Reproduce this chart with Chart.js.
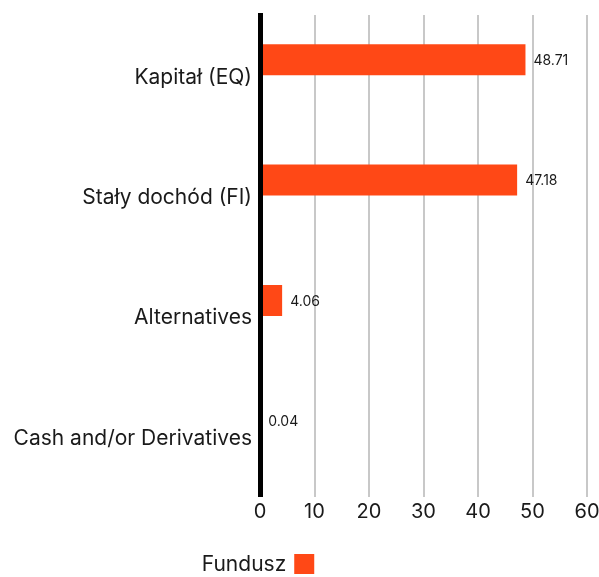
<!DOCTYPE html>
<html>
<head>
<meta charset="utf-8">
<script src="https://cdn.jsdelivr.net/npm/chart.js@4/dist/chart.umd.min.js"></script>
<style>
  html, body { margin: 0; padding: 0; background: #fff; }
  #wrap { width: 599px; height: 577px; }
</style>
</head>
<body>
<div id="wrap"><canvas id="myChart" width="599" height="577"></canvas></div>
<script>
const categories = ['Kapitał (EQ)', 'Stały dochód (FI)', 'Alternatives', 'Cash and/or Derivatives'];
const fundValues = [48.71, 47.18, 4.06, 0.04];
const fundLabel = 'Fundusz';
const xTickMin = 0;
const xTickMax = 60;
const xTickStep = 10;

const ORANGE = '#ff4816';
const TEXT = '#1a1a1a';
const FONT = 'Inter, "Liberation Sans", sans-serif';

// value labels at the end of each bar
const barValues = {
  id: 'barValues',
  afterDatasetsDraw(chart) {
    const ctx = chart.ctx;
    const meta = chart.getDatasetMeta(0);
    ctx.save();
    ctx.font = '14px ' + FONT;
    ctx.fillStyle = TEXT;
    ctx.textAlign = 'left';
    ctx.textBaseline = 'middle';
    meta.data.forEach((bar, i) => {
      ctx.fillText(fundValues[i].toFixed(2), bar.x + 8, bar.y + 1);
    });
    ctx.restore();
  },
};

// legend: text first, square after it
const sideLegend = {
  id: 'sideLegend',
  afterDraw(chart) {
    const ctx = chart.ctx;
    const ds = chart.data.datasets[0];
    const box = 20;
    const gap = 8;
    ctx.save();
    ctx.font = '21px ' + FONT;
    const w = ctx.measureText(ds.label).width;
    const total = w + gap + box;
    const x0 = chart.chartArea.left - 2 - total / 2;
    const yc = chart.height - 13;
    ctx.fillStyle = TEXT;
    ctx.textAlign = 'left';
    ctx.textBaseline = 'middle';
    ctx.fillText(ds.label, x0, yc + 1);
    ctx.fillStyle = ds.backgroundColor;
    ctx.fillRect(x0 + w + gap, yc - box / 2, box, box);
    ctx.restore();
  },
};

new Chart(document.getElementById('myChart').getContext('2d'), {
  type: 'bar',
  data: {
    labels: categories,
    datasets: [
      {
        label: fundLabel,
        data: fundValues,
        backgroundColor: ORANGE,
        barPercentage: 1,
        categoryPercentage: 0.515,
      },
      {
        label: '',
        data: [],
        backgroundColor: 'transparent',
        barPercentage: 1,
        categoryPercentage: 0.515,
      },
    ],
  },
  options: {
    responsive: false,
    animation: false,
    indexAxis: 'y',
    layout: { padding: { top: 15, right: 12, bottom: 50.5, left: 0 } },
    plugins: {
      legend: { display: false },
      tooltip: { enabled: false },
    },
    scales: {
      x: {
        min: xTickMin,
        max: xTickMax,
        ticks: {
          stepSize: xTickStep,
          color: TEXT,
          font: { family: FONT, size: 20 },
          padding: 3,
        },
        grid: { color: '#c8c8c8', lineWidth: 2, drawTicks: false },
        border: { display: false },
        afterFit(scale) {
          scale.height = 30;
          scale.paddingLeft = 0;
          scale.paddingRight = 0;
        },
      },
      y: {
        ticks: {
          color: TEXT,
          font: { family: FONT, size: 21 },
          padding: 8,
          labelOffset: 2,
        },
        grid: { display: false, drawTicks: false },
        border: { display: true, color: '#000', width: 5, z: 1 },
        afterFit(scale) {
          scale.width = 260;
          scale.paddingTop = 0;
          scale.paddingBottom = 0;
        },
      },
    },
  },
  plugins: [barValues, sideLegend],
});
</script>
</body>
</html>
